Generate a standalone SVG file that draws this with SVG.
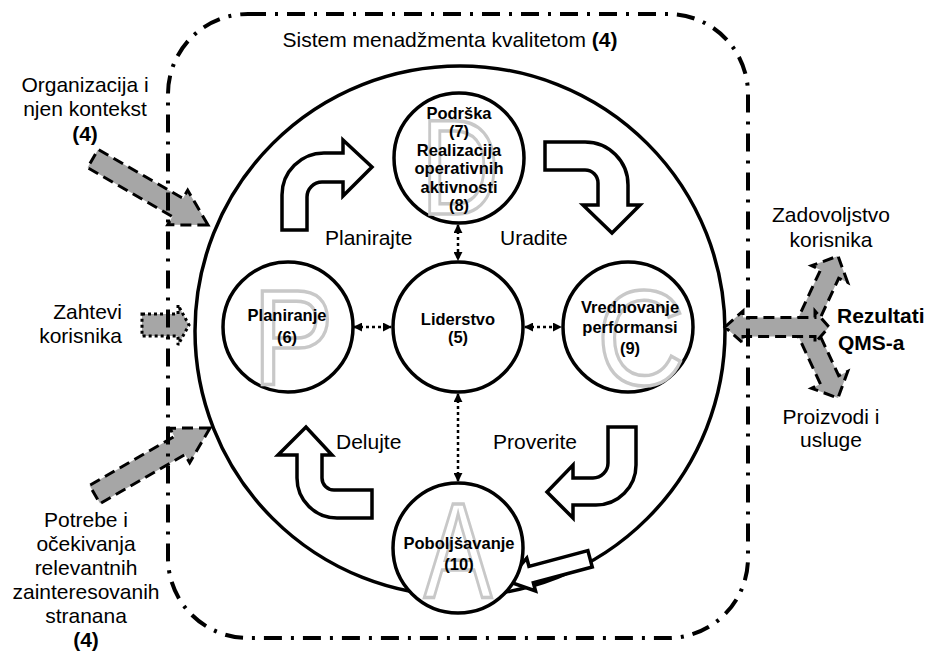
<svg xmlns="http://www.w3.org/2000/svg" width="927" height="651" viewBox="0 0 927 651">
<defs>
<marker id="ah" viewBox="0 0 10 10" refX="9" refY="5" markerWidth="3.6" markerHeight="3.6" orient="auto-start-reverse" markerUnits="strokeWidth"><path d="M0,0 L10,5 L0,10 Z" fill="#000"/></marker>
<path id="garrow" d="M0,0 L-35,-20 L-35,-10.5 L-133,-10.5 L-133,10.5 L-35,10.5 L-35,20 Z"/>
<style>
.t{font-family:"Liberation Sans",Arial,sans-serif;font-size:21px;fill:#000}
.m{text-anchor:middle}
.e{text-anchor:end}
.b{font-weight:bold}
.n{font-family:"Liberation Sans",Arial,sans-serif;font-size:16.5px;font-weight:bold;text-anchor:middle;fill:#000}
.c{fill:#fff;stroke:#000;stroke-width:3.5}
.g{font-family:"Liberation Sans",Arial,sans-serif;font-size:136px;fill:#fff;stroke:#c8c8c8;stroke-width:3.5;text-anchor:middle}
.h{fill:#fff;stroke:#000;stroke-width:3.5;stroke-linejoin:miter}
.ga{fill:#a6a6a6;stroke:#000;stroke-width:3;stroke-dasharray:11 6}
.dl{stroke:#000;stroke-width:2.5;stroke-dasharray:3 3;fill:none}
</style>
</defs>
<rect width="927" height="651" fill="#fff"/>

<g id="system-title">
<text class="t m" x="450" y="47">Sistem menadžmenta kvalitetom <tspan class="b">(4)</tspan></text>
</g>

<circle id="big-cycle" cx="460" cy="331" r="265" fill="none" stroke="#000" stroke-width="3.5"/>

<g id="pdca-arrows">
<path class="h" d="M282,230 L282,195 A42,42 0 0 1 324,153 L343,153 L343,140 L372,167 L343,196 L343,182 L322,182 A15,15 0 0 0 307,197 L307,230 Z"/>
<path class="h" d="M545,142 L585,142 A43,43 0 0 1 628,185 L628,205 L640,205 L612,233 L583,205 L598,205 L598,183 A13,13 0 0 0 585,170 L545,170 Z"/>
<path class="h" d="M608,427 L636,427 L636,465 A40,40 0 0 1 596,505 L573,505 L573,518 L547,492 L573,465 L573,478 L593,478 A15,15 0 0 0 608,463 Z"/>
<path class="h" d="M372,490 L334,490 A12,12 0 0 1 322,478 L322,455 L332,455 L306,427 L278,455 L297,455 L297,478 A40,40 0 0 0 337,518 L372,518 Z"/>
<path class="h" transform="translate(507,581) rotate(-15)" d="M0,0 L25,-17 L25,-8.5 L86,-8.5 L86,8.5 L25,8.5 L25,17 Z"/>
</g>

<g id="labels-pdca">
<text class="t" x="325" y="245">Planirajte</text>
<text class="t" x="500" y="245">Uradite</text>
<text class="t" x="336" y="449">Delujte</text>
<text class="t" x="493" y="449">Proverite</text>
</g>

<g id="node-podrska">
<circle class="c" cx="459" cy="158" r="65"/>
<text class="g" x="460" y="214" transform="translate(460 0) scale(0.8 1) translate(-460 0)">D</text>
<text class="n" x="459" y="119">Podrška</text>
<text class="n" x="459" y="137">(7)</text>
<text class="n" x="459" y="156">Realizacija</text>
<text class="n" x="459" y="174">operativnih</text>
<text class="n" x="459" y="193">aktivnosti</text>
<text class="n" x="459" y="211">(8)</text>
</g>

<g id="node-planiranje">
<circle class="c" cx="288" cy="327" r="65"/>
<text class="g" x="293" y="384" transform="translate(293 0) scale(0.9 1) translate(-293 0)">P</text>
<text class="n" x="287" y="321">Planiranje</text>
<text class="n" x="287" y="343">(6)</text>
</g>

<g id="node-liderstvo">
<circle class="c" cx="458" cy="327" r="65"/>
<text class="n" x="458" y="325">Liderstvo</text>
<text class="n" x="458" y="343">(5)</text>
</g>

<g id="node-vrednovanje">
<circle class="c" cx="628" cy="327" r="65"/>
<text class="g" x="641" y="385" transform="translate(641 0) scale(0.9 1) translate(-641 0)">C</text>
<text class="n" x="630" y="313">Vrednovanje</text>
<text class="n" x="630" y="333">performansi</text>
<text class="n" x="630" y="354">(9)</text>
</g>

<g id="node-poboljsavanje">
<circle class="c" cx="458" cy="548" r="65"/>
<text class="g" x="458" y="597" transform="translate(458 0) scale(0.75 1) translate(-458 0)">A</text>
<text class="n" x="459" y="549">Poboljšavanje</text>
<text class="n" x="459" y="570">(10)</text>
</g>

<g id="connectors">
<line class="dl" x1="354" y1="327" x2="391" y2="327" marker-start="url(#ah)" marker-end="url(#ah)"/>
<line class="dl" x1="525" y1="327" x2="561" y2="327" marker-start="url(#ah)" marker-end="url(#ah)"/>
<line class="dl" x1="458" y1="225" x2="458" y2="260" marker-start="url(#ah)" marker-end="url(#ah)"/>
<line class="dl" x1="458" y1="394" x2="458" y2="481" marker-start="url(#ah)" marker-end="url(#ah)"/>
</g>

<g id="input-organizacija">
<use href="#garrow" class="ga" transform="translate(208,225) rotate(30)"/>
<text class="t m" x="85" y="92">Organizacija i</text>
<text class="t m" x="85" y="116">njen kontekst</text>
<text class="t m b" x="85" y="141">(4)</text>
</g>

<g id="input-zahtevi">
<path d="M142,314 L178,314 L178,305 L189,325 L178,345 L178,336 L142,336 Z" fill="#a6a6a6" stroke="#000" stroke-width="3" stroke-dasharray="3 3"/>
<text class="t e" x="122" y="319">Zahtevi</text>
<text class="t e" x="122" y="343">korisnika</text>
</g>

<g id="input-potrebe">
<use href="#garrow" class="ga" transform="translate(210,428) rotate(-30)"/>
<text class="t m" x="86" y="527">Potrebe i</text>
<text class="t m" x="86" y="551">očekivanja</text>
<text class="t m" x="86" y="575">relevantnih</text>
<text class="t m" x="86" y="599">zainteresovanih</text>
<text class="t m" x="86" y="623">stranana</text>
<text class="t m b" x="86" y="647">(4)</text>
</g>

<g id="output-rezultati">
<path class="ga" d="M794,327 L820.5,269.9 L811.5,265.7 L838,256 L847.7,282.5 L838.7,278.3 L816.1,327 L838.7,375.7 L847.7,371.5 L838,398 L811.5,388.3 L820.5,384.1 Z"/>
<path class="ga" d="M725,327 L743,311 L743,317.5 L815,317.5 L815,311 L829,327 L815,343 L815,336.5 L743,336.5 L743,343 Z"/>
<text class="t m" x="831" y="222">Zadovoljstvo</text>
<text class="t m" x="831" y="247">korisnika</text>
<text class="t b" x="837" y="323">Rezultati</text>
<text class="t b" x="838" y="350">QMS-a</text>
<text class="t m" x="831" y="424">Proizvodi i</text>
<text class="t m" x="831" y="447">usluge</text>
</g>

<rect id="qms-boundary" x="168" y="14" width="580" height="624" rx="80" fill="none" stroke="#000" stroke-width="4" stroke-dasharray="18 9 3 9"/>
</svg>
